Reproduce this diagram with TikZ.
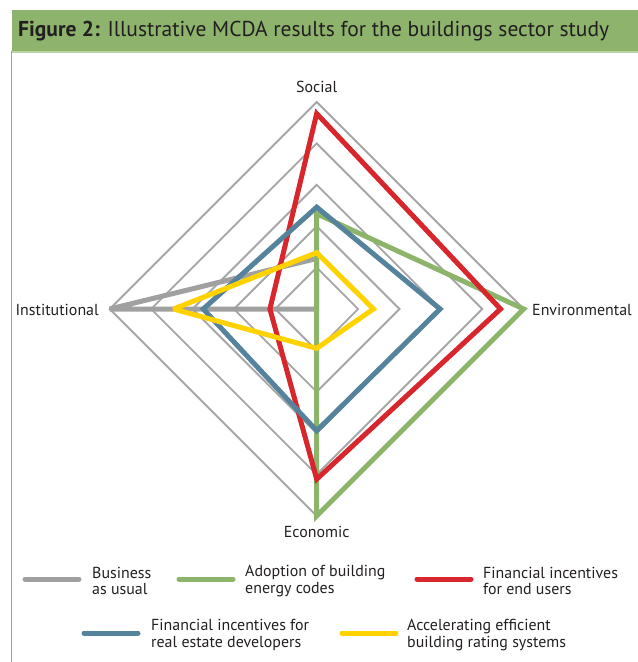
\documentclass[tikz,border=0pt]{standalone}
\usepackage{fontspec}
\setmainfont{PT Sans}
\definecolor{barGreen}{HTML}{8DB36C}
\definecolor{barLine}{HTML}{B9D3A2}
\definecolor{txt}{HTML}{231F20}
\definecolor{gridGray}{HTML}{A6A6A6}
\definecolor{sGray}{HTML}{A0A0A0}
\definecolor{sGreen}{HTML}{8DB46B}
\definecolor{sRed}{HTML}{D7262C}
\definecolor{sBlue}{HTML}{55839B}
\definecolor{sYellow}{HTML}{FFD200}
\tikzset{
  gridline/.style={draw=gridGray, line width=1.9bp},
  series/.style={line width=5bp, line join=miter, miter limit=3},
  swatch/.style={line width=5bp, line cap=round},
  axislabel/.style={font=\fontsize{16}{17}\selectfont, text=txt, inner sep=0pt},
  legendtext/.style={font=\fontsize{16}{16.5}\selectfont, text=txt, inner sep=0pt, align=left, anchor=west},
}
\newcommand{\radarpoly}[5]{%
  \draw[series, #1] (0,{#2*41.4}) -- ({#3*41.4},0) -- (0,{-#4*41.4}) -- ({-#5*41.4},0) -- cycle;}
\begin{document}
\begin{tikzpicture}[x=1bp, y=-1bp]
\useasboundingbox (0,0) rectangle (638,662);
% frame and title bar
\fill[barGreen] (11.5,10) rectangle (638,51);
\draw[barLine, line width=1.5bp] (11.5,51.8) -- (638,51.8);
\draw[barGreen, line width=1.2bp] (11.5,51) -- (11.5,662);
\node[anchor=west, inner sep=0pt, text=txt, font=\fontsize{21.6}{24}\selectfont] (title) at (18,31.5)
  {\textbf{Figure 2:} Illustrative MCDA results for the buildings sector study};
% radar
\begin{scope}[shift={(316.7,309)}, y=1bp]
  \coordinate (C) at (0,0);
  \foreach \r in {1,...,5} {
    \draw[gridline] (0,{\r*41.4}) -- ({\r*41.4},0) -- (0,{-\r*41.4}) -- ({-\r*41.4},0) -- cycle;
  }
  \radarpoly{sGray}{1.22}{0}{0}{5}
  \radarpoly{sGreen}{2.3}{5}{5}{0}
  \radarpoly{sRed}{4.72}{4.44}{4.11}{1.13}
  \radarpoly{sBlue}{2.46}{2.98}{2.94}{2.74}
  \radarpoly{sYellow}{1.36}{1.37}{0.95}{3.46}
\end{scope}
\node[axislabel] (social) at (316.7,87) {Social};
\node[axislabel] (economic) at (316.7,532) {Economic};
\node[axislabel, anchor=east] (institutional) at (99,310) {Institutional};
\node[axislabel, anchor=west] (environmental) at (532,310) {Environmental};
% legend
\draw[swatch, sGray] (25,579) -- (79,579);
\node[legendtext] (lg1) at (92,581) {Business\\as usual};
\draw[swatch, sGreen] (179,579) -- (233,579);
\node[legendtext] (lg2) at (245,581) {Adoption of building\\energy codes};
\draw[swatch, sRed] (417,579) -- (471,579);
\node[legendtext] (lg3) at (483,581) {Financial incentives\\for end users};
\draw[swatch, sBlue] (84,633) -- (138,633);
\node[legendtext] (lg4) at (151,635) {Financial incentives for\\real estate developers};
\draw[swatch, sYellow] (342,633) -- (396,633);
\node[legendtext] (lg5) at (407,635) {Accelerating efficient\\building rating systems};
\end{tikzpicture}
\end{document}
